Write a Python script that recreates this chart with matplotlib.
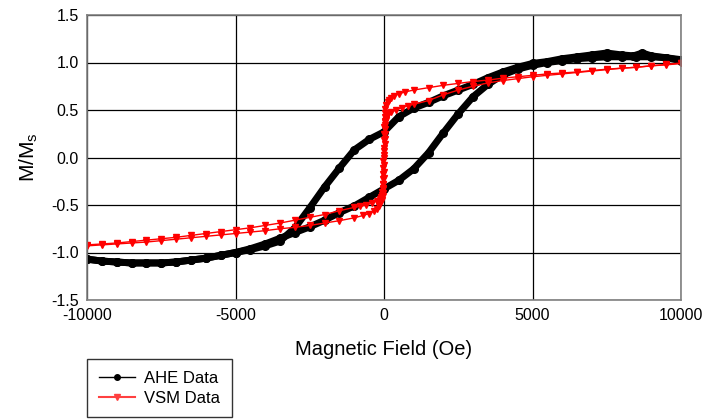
import matplotlib
matplotlib.use('Agg')
import matplotlib.pyplot as plt
from matplotlib.lines import Line2D

plt.rcParams['font.family'] = ['Liberation Sans', 'DejaVu Sans']
plt.rcParams['mathtext.default'] = 'regular'
plt.rcParams['axes.unicode_minus'] = False

# AHE data, field swept down (+10000 -> -10000)
ahe_down_h = [10000, 9500, 9000, 8700, 8400, 8000, 7500, 7000, 6500, 6000, 5500, 5000,
              4500, 4000, 3500, 3000, 2500, 2000, 1500, 1000, 500, 0, -500, -1000,
              -1500, -2000, -2500, -3000, -3500, -4000, -4500, -5000, -5500, -6000,
              -6500, -7000, -7500, -8000, -8500, -9000, -9500, -10000]
ahe_down_m = [1.02, 1.05, 1.07, 1.10, 1.07, 1.08, 1.10, 1.08, 1.06, 1.04, 1.01, 0.99,
              0.95, 0.90, 0.84, 0.77, 0.71, 0.65, 0.58, 0.52, 0.43, 0.27, 0.19, 0.08,
              -0.11, -0.31, -0.53, -0.74, -0.88, -0.93, -0.97, -1.00, -1.03, -1.06,
              -1.08, -1.10, -1.11, -1.11, -1.11, -1.10, -1.09, -1.07]

# AHE data, field swept up (-10000 -> +10000)
ahe_up_h = [-10000, -9500, -9000, -8500, -8000, -7500, -7000, -6500, -6000, -5500, -5000,
            -4500, -4000, -3500, -3000, -2500, -2000, -1500, -1000, -500, 0, 500, 1000,
            1500, 2000, 2500, 3000, 3500, 4000, 4500, 5000, 5500, 6000, 6500, 7000,
            7500, 8000, 8500, 9000, 9500, 10000]
ahe_up_m = [-1.07, -1.09, -1.10, -1.11, -1.11, -1.11, -1.10, -1.08, -1.06, -1.03, -1.00,
            -0.96, -0.91, -0.85, -0.79, -0.73, -0.66, -0.58, -0.51, -0.42, -0.33, -0.24, -0.12,
            0.05, 0.26, 0.46, 0.64, 0.77, 0.87, 0.93, 0.97, 1.00, 1.02, 1.04, 1.05,
            1.06, 1.06, 1.06, 1.06, 1.05, 1.03]

# VSM data, field swept down
vsm_down_h = [10000, 9500, 9000, 8500, 8000, 7500, 7000, 6500, 6000, 5500, 5000, 4500,
              4000, 3500, 3000, 2500, 2000, 1500, 1000, 700, 500, 350, 250, 180, 120, 80,
              50, 35, 25, 18, 12, 6, 0, -6, -12, -18, -24, -30, -36, -42, -50, -60, -75,
              -100, -150, -250, -400, -600, -800, -1000, -1500, -2000, -2500, -3000, -3500,
              -4000, -4500, -5000, -5500, -6000, -6500, -7000, -7500, -8000, -8500, -9000,
              -9500, -10000]
vsm_down_m = [0.99, 0.975, 0.965, 0.95, 0.94, 0.93, 0.915, 0.90, 0.89, 0.88, 0.865, 0.85,
              0.835, 0.815, 0.80, 0.78, 0.76, 0.735, 0.71, 0.69, 0.67, 0.65, 0.63, 0.61, 0.58, 0.55,
              0.51, 0.47, 0.43, 0.38, 0.32, 0.25, 0.18, 0.10, 0.03, -0.04, -0.11, -0.17, -0.23,
              -0.28, -0.32, -0.36, -0.39,
              -0.42, -0.44, -0.46, -0.48, -0.50, -0.515, -0.525, -0.56, -0.60, -0.63, -0.66, -0.69,
              -0.715, -0.74, -0.76, -0.78, -0.80, -0.82, -0.84, -0.855, -0.87, -0.885, -0.90,
              -0.91, -0.92]

# VSM data, field swept up
vsm_up_h = [-10000, -9500, -9000, -8500, -8000, -7500, -7000, -6500, -6000, -5500, -5000,
            -4500, -4000, -3500, -3000, -2500, -2000, -1500, -1000, -700, -500, -350, -250,
            -180, -120, -80, -50, -35, -25, -18, -12, -6, 0, 6, 12, 18, 24, 30, 36, 42, 50,
            60, 75, 100, 150, 250, 400, 600, 800, 1000, 1500, 2000, 2500, 3000, 3500, 4000,
            4500, 5000, 5500, 6000, 6500, 7000, 7500, 8000, 8500, 9000, 9500, 10000]
vsm_up_m = [-0.93, -0.92, -0.91, -0.90, -0.89, -0.875, -0.86, -0.845, -0.83, -0.815, -0.80,
            -0.785, -0.77, -0.75, -0.735, -0.715, -0.69, -0.665, -0.635, -0.61, -0.59, -0.565, -0.54,
            -0.51, -0.48, -0.45, -0.41, -0.37, -0.33, -0.28, -0.22, -0.15, -0.08, 0.0, 0.07, 0.14,
            0.20, 0.25, 0.30, 0.34, 0.37,
            0.40, 0.42, 0.44, 0.46, 0.48, 0.50, 0.525, 0.545, 0.56, 0.60, 0.66, 0.71, 0.75, 0.785,
            0.81, 0.83, 0.85, 0.865, 0.88, 0.895, 0.91, 0.925, 0.94, 0.95, 0.965, 0.98, 0.995]

fig = plt.figure(figsize=(7.04, 4.2), dpi=100)
ax = fig.add_axes([87 / 704, 1 - 300 / 420, 594 / 704, 285 / 420])

ax.plot(ahe_down_h, ahe_down_m, color='black', lw=5, marker='o', ms=5.5, solid_capstyle='round')
ax.plot(ahe_up_h, ahe_up_m, color='black', lw=5, marker='o', ms=5.5, solid_capstyle='round')
ax.plot(vsm_down_h, vsm_down_m, color='red', lw=1, marker='v', ms=5)
ax.plot(vsm_up_h, vsm_up_m, color='red', lw=1, marker='v', ms=5)

ax.set_xlim(-10000, 10000)
ax.set_ylim(-1.5, 1.5)
ax.set_xticks([-10000, -5000, 0, 5000, 10000])
ax.set_yticks([-1.5, -1.0, -0.5, 0.0, 0.5, 1.0, 1.5])
ax.set_yticklabels(['-1.5', '-1.0', '-0.5', '0.0', '0.5', '1.0', '1.5'])
ax.grid(True, color='black', lw=0.9)
ax.set_axisbelow(True)
ax.tick_params(length=0, labelsize=11.5, pad=6)
for s in ax.spines.values():
    s.set_color('#808080')
    s.set_linewidth(1.2)

ax.set_xlabel('Magnetic Field (Oe)', fontsize=14.5, labelpad=12)
ax.set_ylabel('M/M$_s$', fontsize=15, labelpad=8)

# legend below the plot, thin handles
handles = [Line2D([], [], color='black', lw=1, marker='o', ms=4),
           Line2D([], [], color='#ff4040', lw=1.5, marker='v', ms=4)]
leg = fig.legend(handles, ['AHE Data', 'VSM Data'], loc='upper left',
                 bbox_to_anchor=(87 / 704, 1 - 359 / 420), borderaxespad=0,
                 fontsize=12, frameon=True, fancybox=False, edgecolor='black',
                 handlelength=2.2, handletextpad=0.55, borderpad=0.7, labelspacing=0.3)
leg.get_frame().set_linewidth(1)

fig.savefig('out.png', dpi=100)
